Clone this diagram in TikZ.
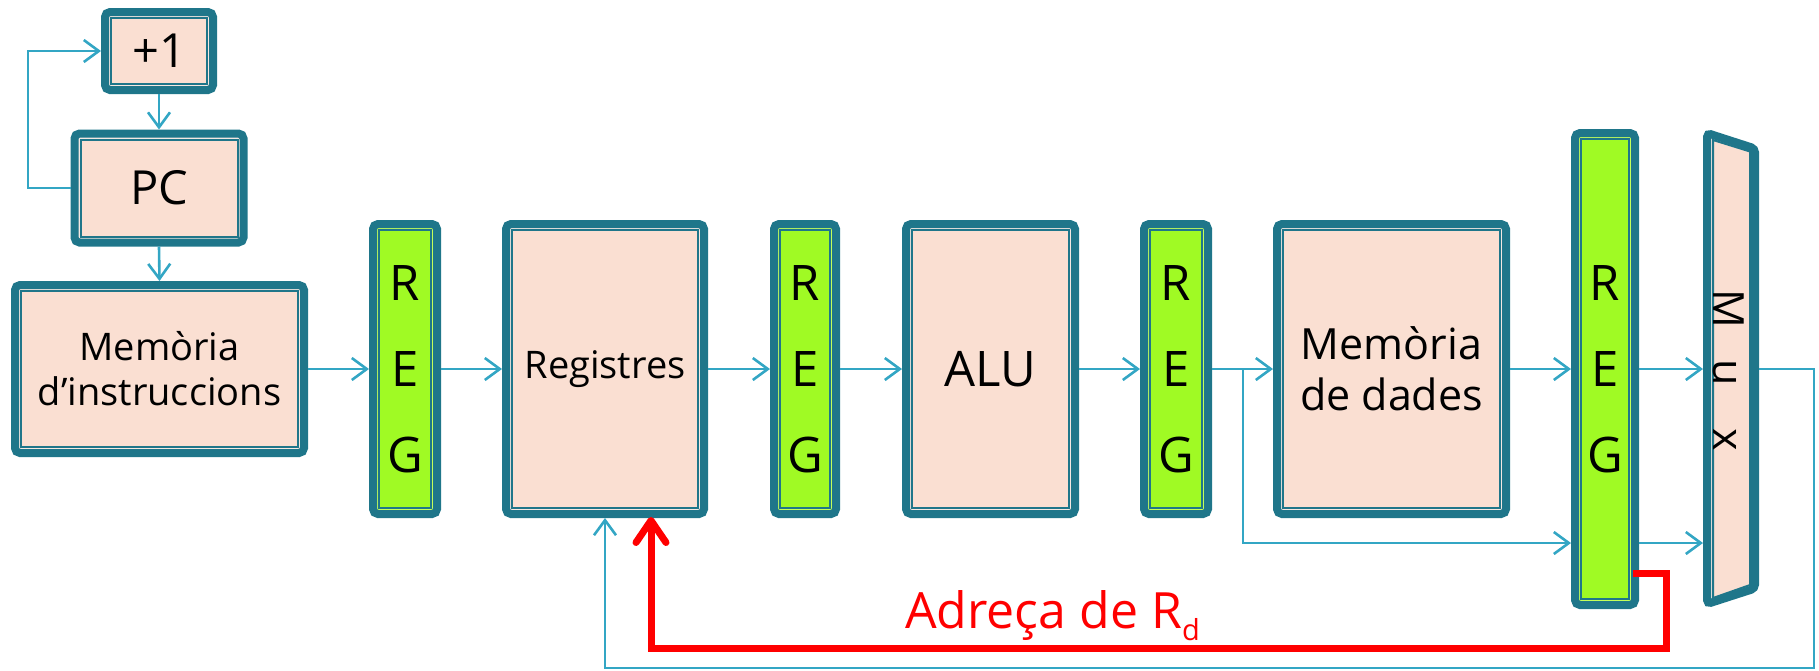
\documentclass[tikz,border=0pt]{standalone}
\usepackage{fontspec}
\setmainfont{Open Sans}
\usetikzlibrary{arrows.meta}
\definecolor{bord}{RGB}{31,118,138}
\definecolor{peach}{RGB}{250,223,210}
\definecolor{peachgap}{RGB}{244,232,226}
\definecolor{lime}{RGB}{160,250,36}
\definecolor{limegap}{RGB}{196,255,90}
\definecolor{wire}{RGB}{51,166,196}
\definecolor{rd}{RGB}{255,0,0}
\newcommand\fsz[2]{\fontsize{#1}{#2}\selectfont}
\tikzset{
  basebox/.style={draw=bord, line width=8pt, rounded corners=5pt, inner sep=0pt, outer sep=4pt, align=center, text=black},
  pbox/.style={basebox, fill=peachgap,
    path picture={\draw[bord, line width=2pt, fill=peach, sharp corners] ([shift={(6pt,6pt)}]path picture bounding box.south west) rectangle ([shift={(-6pt,-6pt)}]path picture bounding box.north east);}},
  gbox/.style={basebox, fill=limegap, font=\fsz{49}{86},
    path picture={\draw[bord, line width=2pt, fill=lime, sharp corners] ([shift={(6pt,6pt)}]path picture bounding box.south west) rectangle ([shift={(-6pt,-6pt)}]path picture bounding box.north east);}},
  plainwire/.style={draw=wire, line width=2.6pt},
  conn/.style={plainwire, -{Straight Barb[length=15pt,width=22pt]}},
  redconn/.style={draw=rd, line width=7pt, -{Straight Barb[length=22pt,width=30pt,round]}},
  muxletter/.style={rotate=-90, anchor=base, inner sep=0pt, font=\fsz{43}{43}},
}
\begin{document}
\begin{tikzpicture}[x=1pt,y=-1pt]
\useasboundingbox (0,0) rectangle (1819,670);

% boxes
\node[pbox, minimum width=108pt, minimum height=78pt, font=\fsz{47}{47}] (plus1) at (159,51) {+1};
\node[pbox, minimum width=169pt, minimum height=109pt, font=\fsz{47}{47}] (pc) at (159,188) {PC};
\node[pbox, minimum width=289pt, minimum height=168pt, font=\fsz{38}{45}] (imem) at (159.5,369) {Memòria\\d’instruccions};
\node[gbox, minimum width=64pt, minimum height=290pt] (r1) at (405,369) {R\\E\\G};
\node[pbox, minimum width=198pt, minimum height=290pt, font=\fsz{38}{45}] (regs) at (605,369) {Registres};
\node[gbox, minimum width=62pt, minimum height=290pt] (r2) at (805,369) {R\\E\\G};
\node[pbox, minimum width=169pt, minimum height=290pt, font=\fsz{49}{49}] (alu) at (990.5,369) {ALU};
\node[gbox, minimum width=64pt, minimum height=290pt] (r3) at (1176,369) {R\\E\\G};
\node[pbox, minimum width=229pt, minimum height=290pt, font=\fsz{43}{51}] (dmem) at (1391.5,369) {Memòria\\de dades};
\node[gbox, minimum width=60pt, minimum height=472pt] (r4) at (1605,369) {R\\E\\G};

% mux
\draw[bord, line width=8pt, fill=peachgap, rounded corners=4pt] (1707,133) -- (1755,148.5) -- (1755,588.5) -- (1707,604) -- cycle;
\draw[bord, line width=2pt, fill=peach] (1713,140) -- (1750,151.5) -- (1750,585) -- (1713,598) -- cycle;
\node[muxletter] (muxM) at (1713,309) {M};
\node[muxletter] (muxu) at (1713,373) {u};
\node[muxletter] (muxx) at (1713,440) {x};
\coordinate (muxin1) at (1703,369);
\coordinate (muxin2) at (1703,543);
\coordinate (muxout) at (1759,369);

% top loop
\coordinate (lp1) at (28,188);
\coordinate (lp2) at (28,51);
\draw[conn] (plus1.south) -- (pc.north);
\draw[conn] (pc.south) -- (imem.north);
\draw[conn] (pc.west) -- (lp1) -- (lp2) -- (plus1.west);

% main row
\draw[conn] (imem.east) -- (r1.west);
\draw[conn] (r1.east) -- (regs.west);
\draw[conn] (regs.east) -- (r2.west);
\draw[conn] (r2.east) -- (alu.west);
\draw[conn] (alu.east) -- (r3.west);
\draw[conn] (r3.east) -- (dmem.west);
\draw[conn] (dmem.east) -- (r4.west);
\draw[conn] (r4.east) -- (muxin1);
\coordinate (br) at (1243,369);
\coordinate (brd) at (1243,543);
\draw[conn] (br) -- (brd) -- (brd -| r4.west);
\draw[conn] (brd -| r4.east) -- (muxin2);

% feedback
\coordinate (fbR) at (1814,369);
\coordinate (fbB) at (1814,668);
\draw[conn] (muxout) -- (fbR) -- (fbB) -| (regs.south);

% red address path
\coordinate (rdB) at (1666,573);
\coordinate (rdC) at (1666,648);
\coordinate (rdT) at (651,517);
\draw[redconn] ([xshift=-6pt]r4.east |- rdB) -- (rdB) -- (rdC) -| (rdT);
\node[anchor=base west, inner sep=0pt, text=rd, font=\fsz{50}{50}] (rdlabel) at (905,628) {Adreça de R\raisebox{-12pt}{\fsz{29}{29}d}};
\end{tikzpicture}
\end{document}
